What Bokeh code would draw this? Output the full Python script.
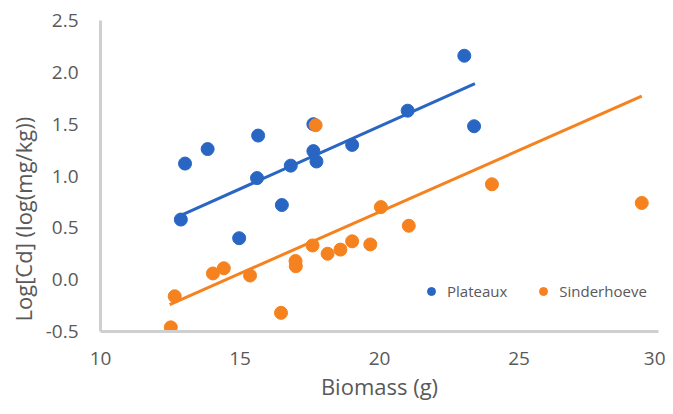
from bokeh.plotting import figure
from bokeh.models import (ColumnDataSource, FixedTicker, NumeralTickFormatter, Legend,
                          LegendItem, Range1d, Title)
from bokeh.embed import file_html
from bokeh.resources import INLINE

# ---- data ----
plateaux_x = [12.88, 13.03, 13.84, 14.97, 15.61, 15.65, 16.50, 16.82, 17.63, 17.63,
              17.74, 19.02, 21.01, 23.04, 23.39]
plateaux_y = [0.58, 1.12, 1.26, 0.40, 0.98, 1.39, 0.72, 1.10, 1.50, 1.24,
              1.14, 1.30, 1.63, 2.16, 1.48]

sinder_x = [12.52, 12.66, 14.03, 14.42, 15.36, 16.47, 16.99, 17.00, 17.60, 17.71,
            18.14, 18.60, 19.02, 19.67, 20.05, 21.05, 24.03, 29.40]
sinder_y = [-0.46, -0.16, 0.06, 0.11, 0.04, -0.32, 0.18, 0.13, 0.33, 1.49,
            0.25, 0.29, 0.37, 0.34, 0.70, 0.52, 0.92, 0.74]

# linear trendlines as drawn in the reference (end points)
plateaux_trend_x = [12.88, 23.42]
plateaux_trend_y = [0.62, 1.89]
sinder_trend_x = [12.48, 29.40]
sinder_trend_y = [-0.24, 1.77]

x_ticks = [10, 15, 20, 25, 30]
y_ticks = [-0.5, 0.0, 0.5, 1.0, 1.5, 2.0, 2.5]

series_names = ["Plateaux", "Sinderhoeve"]
x_title = "Biomass (g)"
y_title = "Log[Cd] (log(mg/kg))"

BLUE = "#2966c3"
ORANGE = "#f5821f"
TXT = "#595959"
FONT = "Open Sans"

p = figure(width=665, height=406, output_backend="svg", toolbar_location=None,
           x_range=Range1d(10, 30), y_range=Range1d(-0.5, 2.5),
           min_border_left=95, min_border_right=7, min_border_top=20, min_border_bottom=75)
p.outline_line_color = None
p.grid.visible = False
p.background_fill_color = "white"
p.border_fill_color = "white"

for ax in (p.xaxis[0], p.yaxis[0]):
    ax.axis_line_color = "#cfcfcf"
    ax.axis_line_width = 3
    ax.major_tick_line_color = None
    ax.minor_tick_line_color = None
    ax.major_tick_out = 0
    ax.major_tick_in = 0
    ax.major_label_text_font = FONT
    ax.major_label_text_font_size = "19px"
    ax.major_label_text_color = TXT

p.xaxis.ticker = FixedTicker(ticks=x_ticks)
p.yaxis.ticker = FixedTicker(ticks=y_ticks)
p.yaxis.formatter = NumeralTickFormatter(format="0.0")
p.xaxis.major_label_standoff = 20
p.yaxis.major_label_standoff = 22

p.xaxis.axis_label = x_title
p.xaxis.axis_label_text_font = FONT
p.xaxis.axis_label_text_font_size = "22px"
p.xaxis.axis_label_text_font_style = "normal"
p.xaxis.axis_label_text_color = TXT
p.xaxis.axis_label_standoff = 3

src_p = ColumnDataSource(dict(x=plateaux_x, y=plateaux_y))
src_s = ColumnDataSource(dict(x=sinder_x, y=sinder_y))

r1 = p.scatter("x", "y", source=src_p, size=13, color=BLUE)
p.line(plateaux_trend_x, plateaux_trend_y, line_color=BLUE, line_width=3)

r2 = p.scatter("x", "y", source=src_s, size=13, color=ORANGE)
p.line(sinder_trend_x, sinder_trend_y, line_color=ORANGE, line_width=3)

legend = Legend(items=[LegendItem(label=series_names[0], renderers=[r1]),
                       LegendItem(label=series_names[1], renderers=[r2])],
                orientation="horizontal", location=(321, 30),
                glyph_width=20, glyph_height=20, label_standoff=6, spacing=26,
                padding=0, margin=0, border_line_alpha=0, background_fill_alpha=0,
                label_text_font=FONT, label_text_font_size="15px", label_text_color=TXT)
p.add_layout(legend)

ytitle = Title(text=y_title, align="left", offset=10, text_font=FONT,
               text_font_size="22px", text_font_style="normal", text_color=TXT)
p.add_layout(ytitle, "left")

open("out.html", "w").write(file_html(p, INLINE))
